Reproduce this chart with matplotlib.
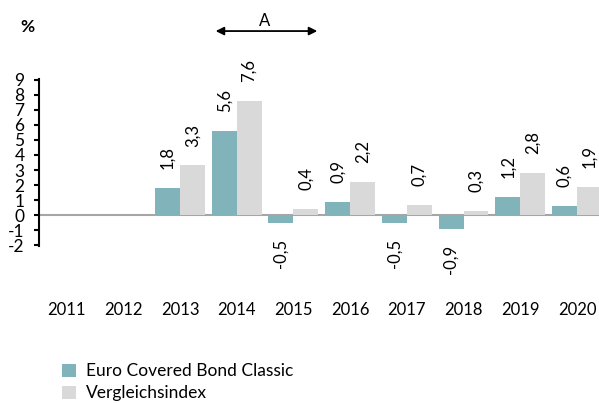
import matplotlib.pyplot as plt
import numpy as np

plt.rcParams['font.family'] = ['Lato', 'DejaVu Sans']

years = ["2011", "2012", "2013", "2014", "2015", "2016", "2017", "2018", "2019", "2020"]
fund = [None, None, 1.8, 5.6, -0.5, 0.9, -0.5, -0.9, 1.2, 0.6]
bench = [None, None, 3.3, 7.6, 0.4, 2.2, 0.7, 0.3, 2.8, 1.9]
yticks = list(range(-2, 10))

teal = "#80b3ba"
grey = "#d9d9d9"

fig = plt.figure(figsize=(5.99, 4.03), dpi=100)
ax = fig.add_axes([0.0651, 0.3896, 0.935, 0.4144])

x = np.arange(len(years))
w = 0.44

def fmt(v):
    return ("%.1f" % v).replace(".", ",")

for vals, off, col, name in [(fund, -w / 2, teal, "Euro Covered Bond Classic"),
                             (bench, w / 2, grey, "Vergleichsindex")]:
    xs = [xi + off for xi, v in zip(x, vals) if v is not None]
    vs = [v for v in vals if v is not None]
    ax.bar(xs, vs, width=w, color=col, label=name)
    for xi, v in zip(xs, vs):
        if v >= 0:
            ax.annotate(fmt(v), (xi, v), xytext=(0, 13.5), textcoords="offset points",
                        rotation=90, ha="center", va="bottom", fontsize=12)
        else:
            ax.annotate(fmt(v), (xi, v), xytext=(0, -11.5), textcoords="offset points",
                        rotation=90, ha="center", va="top", fontsize=12)

ax.axhline(0, color="#a6a6a6", lw=1.5, zorder=0)
ax.set_xlim(-0.487, 9.39)
ax.set_ylim(-2.05, 9.05)
ax.set_yticks(yticks)
ax.set_yticklabels([str(t) for t in yticks], fontsize=12.5)
ax.set_xticks(x)
ax.set_xticklabels(years, fontsize=12)
ax.tick_params(axis="x", length=0, pad=40)
ax.tick_params(axis="y", length=3.5, width=1.5, pad=7)
for s in ["top", "right", "bottom"]:
    ax.spines[s].set_visible(False)
ax.spines["left"].set_linewidth(1.5)
ax.spines["left"].set_bounds(-2.05, 9.05)

# arrow A over 2014-2015
ax.annotate("", xy=(2.58, 1.287), xytext=(4.47, 1.287), xycoords=("data", "axes fraction"),
            arrowprops=dict(arrowstyle="<|-|>", color="black", lw=1.3, mutation_scale=12))
ax.text(3.5, 1.30, "A", transform=ax.get_xaxis_transform(), ha="center", va="bottom", fontsize=12)

fig.text(0.045, 0.932, "%", fontsize=12.5, fontweight="bold", ha="center", va="center")

fig.legend(loc="lower left", bbox_to_anchor=(0.077, -0.035), frameon=False, fontsize=12.5,
           handlelength=0.8, handleheight=0.8, handletextpad=0.6, labelspacing=0.35)

fig.savefig("out.png", dpi=100)
